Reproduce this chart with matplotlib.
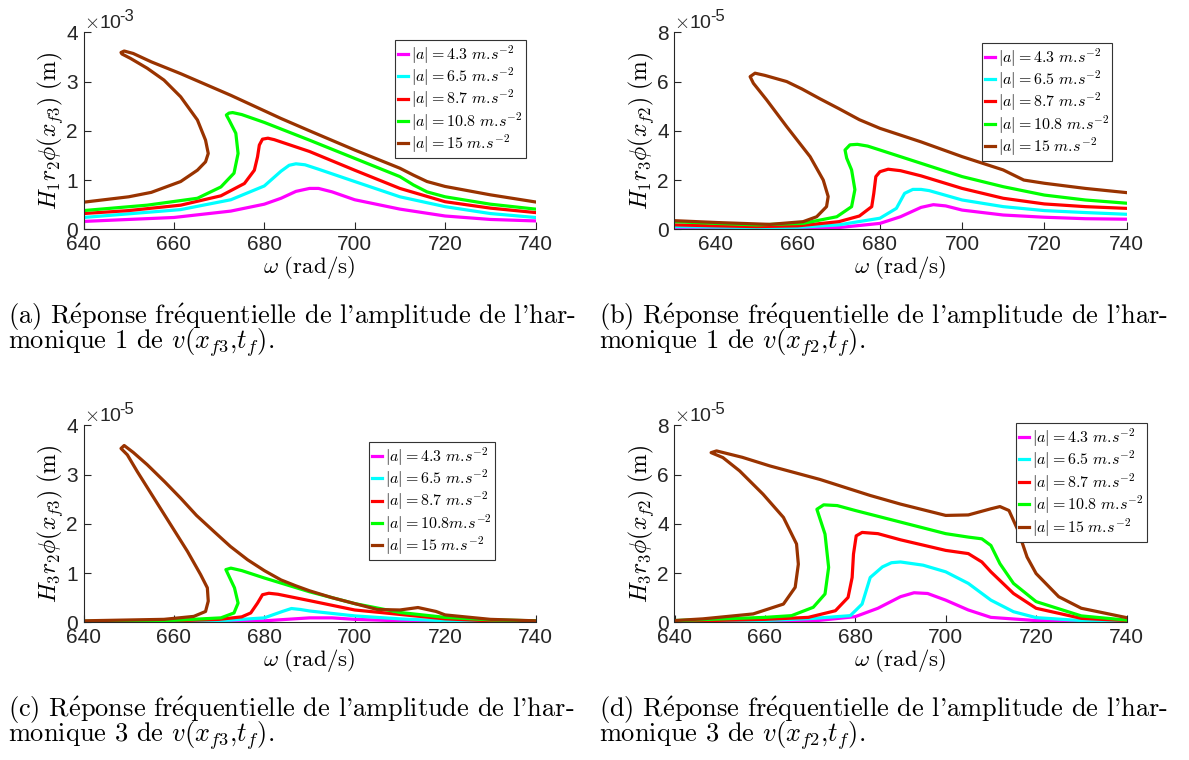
import matplotlib
matplotlib.use("Agg")
import matplotlib.pyplot as plt

plt.rcParams['mathtext.fontset'] = 'cm'
plt.rcParams['font.family'] = ['Liberation Sans', 'DejaVu Sans']
plt.rcParams['axes.unicode_minus'] = False

# legend levels and colours (MATLAB-like)
levels = ['4.3', '6.5', '8.7', '10.8', '15']
colors = ['#FF00FF', '#00FFFF', '#FF0000', '#00FF00', '#993300']

# ---- (a) H1 r2 phi(xf3), units 1e-3 m ----
wa_43 = [640, 660, 672.6, 680, 683.7, 687, 690, 692, 695, 700, 710, 720, 730, 740]
ha_43 = [0.16, 0.24, 0.37, 0.51, 0.63, 0.77, 0.83, 0.83, 0.76, 0.60, 0.41, 0.27, 0.20, 0.17]
wa_65 = [640, 661.5, 672.6, 680, 683.7, 685.5, 687, 689, 692, 700, 710, 720, 730, 740]
ha_65 = [0.24, 0.40, 0.60, 0.88, 1.18, 1.30, 1.33, 1.31, 1.22, 0.97, 0.66, 0.46, 0.32, 0.24]
wa_87 = [640, 650, 661.5, 670.4, 675.6, 677.8, 678.5, 678.9, 679.6, 680.8, 682.2, 690, 700, 710, 720, 730, 740]
ha_87 = [0.32, 0.38, 0.49, 0.68, 0.93, 1.20, 1.47, 1.71, 1.83, 1.85, 1.82, 1.58, 1.20, 0.83, 0.56, 0.43, 0.34]
wa_108 = [640, 654.1, 665.2, 670.4, 673.3, 674.2, 673.7, 672.2, 671.6, 672.2, 673.0, 675, 680, 690, 700, 710, 713, 716, 720, 730, 740]
ha_108 = [0.38, 0.49, 0.63, 0.86, 1.14, 1.54, 1.95, 2.22, 2.32, 2.36, 2.37, 2.33, 2.17, 1.81, 1.44, 1.07, 0.90, 0.76, 0.66, 0.51, 0.41]
wa_15 = [640, 650, 655, 661.5, 665.2, 667.0, 667.6, 667.0, 665.2, 661.5, 657.8, 654.1, 650.4, 648.5, 648.3,
         649.0, 651, 655, 661.5, 672.6, 683.7, 690, 700, 710, 713, 716, 720, 730, 740]
ha_15 = [0.55, 0.66, 0.75, 0.97, 1.20, 1.37, 1.54, 1.81, 2.22, 2.69, 3.03, 3.27, 3.47, 3.56, 3.59,
         3.62, 3.57, 3.40, 3.16, 2.72, 2.25, 2.00, 1.61, 1.24, 1.10, 0.97, 0.87, 0.70, 0.555]

# ---- (b) H1 r3 phi(xf2), units 1e-5 m ----
wb_43 = [630, 660, 670, 680, 685, 690, 693, 696, 700, 710, 720, 730, 740]
hb_43 = [0.04, 0.03, 0.07, 0.24, 0.51, 0.89, 1.00, 0.95, 0.78, 0.58, 0.49, 0.43, 0.41]
wb_65 = [630, 650, 660, 670, 680, 684, 686, 688, 690, 692, 700, 710, 720, 730, 740]
hb_65 = [0.11, 0.07, 0.08, 0.18, 0.45, 0.85, 1.46, 1.62, 1.62, 1.57, 1.19, 0.92, 0.76, 0.68, 0.61]
wb_87 = [630, 640, 650, 660, 670, 675, 678, 678.5, 679, 680, 682, 685, 690, 700, 710, 720, 730, 740]
hb_87 = [0.18, 0.14, 0.11, 0.14, 0.31, 0.54, 0.92, 1.46, 2.14, 2.34, 2.44, 2.38, 2.17, 1.66, 1.26, 1.03, 0.92, 0.85]
wb_108 = [630, 640, 650, 661.3, 669.5, 673.1, 673.9, 673.1, 671.9, 671.5, 672.7, 674.5, 677, 680, 690, 700, 710, 720, 730, 740]
hb_108 = [0.31, 0.24, 0.18, 0.24, 0.51, 0.92, 1.61, 2.41, 2.89, 3.22, 3.43, 3.45, 3.38, 3.22, 2.68, 2.14, 1.73, 1.39, 1.19, 1.06]
wb_15 = [630, 641.1, 653.2, 661.3, 664.6, 667.0, 667.4, 666.2, 663.0, 657.3, 652.4, 649.2, 648.4, 649.6,
         652, 657.3, 661, 665.4, 670, 675, 680, 690, 700, 710, 715, 720, 730, 740]
hb_15 = [0.35, 0.27, 0.20, 0.31, 0.51, 0.92, 1.33, 2.00, 2.95, 4.17, 5.26, 5.93, 6.20, 6.34,
         6.25, 6.00, 5.70, 5.30, 4.90, 4.45, 4.10, 3.55, 2.95, 2.41, 2.00, 1.87, 1.66, 1.49]

# ---- (c) H3 r2 phi(xf3), units 1e-5 m ----
wc_43 = [640, 680, 690, 695, 700, 710, 740]
hc_43 = [0.0, 0.03, 0.09, 0.09, 0.06, 0.03, 0.007]
wc_65 = [640, 670, 680, 684, 686, 688, 690, 700, 710, 720, 740]
hc_65 = [0.007, 0.03, 0.09, 0.22, 0.28, 0.26, 0.23, 0.13, 0.07, 0.03, 0.01]
wc_87 = [640, 660, 670, 675, 677.0, 678.5, 679.6, 681, 683, 690, 700, 710, 720, 730, 740]
hc_87 = [0.01, 0.03, 0.06, 0.11, 0.19, 0.39, 0.56, 0.59, 0.57, 0.44, 0.25, 0.16, 0.07, 0.03, 0.02]
wc_108 = [640, 660, 670.4, 673.3, 674.2, 673.4, 671.5, 672.6, 675, 680, 690, 700, 710, 720, 730, 740]
hc_108 = [0.02, 0.04, 0.09, 0.19, 0.39, 0.70, 1.07, 1.10, 1.05, 0.90, 0.62, 0.38, 0.20, 0.10, 0.05, 0.03]
wc_15 = [640, 657.8, 664.4, 667.0, 667.6, 667.4, 665.9, 663.0, 659.3, 655.6, 651.9, 649.7, 648.3, 649.0,
         651, 654.1, 658, 661.5, 665, 668.9, 672.5, 676.3, 680, 683.7, 687, 690, 695, 700, 705, 710, 714, 718, 720, 730, 740]
hc_15 = [0.03, 0.06, 0.12, 0.22, 0.43, 0.70, 0.97, 1.44, 1.98, 2.52, 3.06, 3.40, 3.53, 3.59,
         3.45, 3.20, 2.85, 2.52, 2.17, 1.84, 1.54, 1.27, 1.05, 0.86, 0.74, 0.64, 0.50, 0.38, 0.26, 0.25, 0.30, 0.22, 0.15, 0.06, 0.03]

# ---- (d) H3 r3 phi(xf2), units 1e-5 m ----
wd_43 = [640, 670, 680, 685, 690, 693, 696, 700, 705, 710, 720, 740]
hd_43 = [0.0, 0.04, 0.23, 0.57, 1.04, 1.20, 1.17, 0.90, 0.50, 0.20, 0.07, 0.01]
wd_65 = [640, 660, 670, 678.9, 681.5, 683.3, 686, 688, 690, 695, 700, 705, 710, 715, 720, 730, 740]
hd_65 = [0.01, 0.07, 0.15, 0.27, 0.74, 1.82, 2.25, 2.42, 2.45, 2.32, 2.05, 1.58, 0.90, 0.43, 0.19, 0.07, 0.03]
wd_87 = [640, 660, 669.6, 675.6, 678.4, 679.3, 679.6, 680.2, 681.5, 685, 690, 700, 705, 708, 710, 715, 720, 730, 740]
hd_87 = [0.04, 0.12, 0.20, 0.47, 1.01, 1.82, 2.77, 3.51, 3.65, 3.60, 3.35, 2.92, 2.79, 2.45, 2.05, 1.17, 0.57, 0.16, 0.07]
wd_108 = [640, 660, 665.9, 670.7, 673.3, 674.1, 673.3, 671.5, 673.0, 676, 680, 690, 700, 705, 708, 710, 712, 715, 720, 730, 740]
hd_108 = [0.07, 0.20, 0.27, 0.61, 1.15, 2.23, 3.58, 4.59, 4.77, 4.74, 4.54, 4.07, 3.60, 3.46, 3.39, 3.12, 2.38, 1.58, 0.84, 0.26, 0.09]
wd_15 = [640, 646.3, 657.4, 664.1, 666.7, 667.4, 667.0, 664.1, 659.6, 654.4, 650.7, 648.1, 649.3,
         655, 661.1, 672.2, 683.3, 690, 700, 705, 710, 712, 714, 716, 718, 720, 725, 730, 740]
hd_15 = [0.07, 0.14, 0.34, 0.74, 1.42, 2.36, 3.18, 4.26, 5.20, 6.15, 6.69, 6.89, 6.96,
         6.70, 6.35, 5.80, 5.15, 4.80, 4.34, 4.36, 4.61, 4.70, 4.54, 3.73, 2.65, 1.98, 1.04, 0.57, 0.19]

W = 1189.0
H = 760.0
fig = plt.figure(figsize=(W / 100, H / 100), dpi=100)
axcol = '#262626'
cap_font = ['cmr10', 'DejaVu Serif']
E = r'$\acute{\mathrm{e}}$'


def make_panel(rect, curves, xlim, ylim, yticks, expo, ylabel, leg_labels, leg_anchor, caption):
    ax = fig.add_axes(rect)
    for (w, h), c, lab in zip(curves, colors, leg_labels):
        ax.plot(w, h, color=c, lw=2.3, label=lab, solid_joinstyle='round')
    ax.set_xlim(*xlim)
    ax.set_ylim(*ylim)
    ax.set_xticks(range(640, 741, 20))
    ax.set_yticks(yticks)
    for s in ['top', 'right']:
        ax.spines[s].set_visible(False)
    for s in ['left', 'bottom']:
        ax.spines[s].set_color(axcol)
        ax.spines[s].set_linewidth(0.8)
    ax.tick_params(direction='in', length=5, width=0.8, colors=axcol, labelsize=15, pad=4)
    ax.set_xlabel(r'$\omega\ \mathrm{(rad/s)}$', fontsize=16.5, labelpad=0)
    ax.set_ylabel(ylabel, fontsize=17, labelpad=1)
    ax.text(0.0, 1.0, r'$\times$10', transform=ax.transAxes, fontsize=14, color=axcol,
            ha='left', va='bottom', family='Liberation Sans')
    ax.text(0.078, 1.04, expo, transform=ax.transAxes, fontsize=12, color=axcol,
            ha='left', va='bottom', family='Liberation Sans')
    leg = ax.legend(loc='upper left', bbox_to_anchor=leg_anchor, fontsize=11.5,
                    handlelength=0.6, handletextpad=0.2, labelspacing=0.0,
                    borderpad=0.2, borderaxespad=0, fancybox=False, framealpha=1)
    leg.get_frame().set_edgecolor('#333333')
    leg.get_frame().set_linewidth(0.8)
    fig.text(rect[0] - 0.0635, rect[1] - 0.1155, caption[0], fontsize=19, family=cap_font,
             ha='left', va='center', math_fontfamily='cm')
    fig.text(rect[0] - 0.0635, rect[1] - 0.149, caption[1], fontsize=19, family=cap_font,
             ha='left', va='center', math_fontfamily='cm')
    return ax


def lab(sep=r'\ '):
    return [r'$|a| = ' + v + sep + r'm.\!s^{-2}$' for v in levels]


def cap(letter, harm, pos):
    return ["(" + letter + ") R" + E + "ponse fr" + E + "quentielle de l'amplitude de l'har-",
            "monique " + harm + r" de $v(x_{f" + pos + r"}{,}t_f)$."]


labs = lab()
labs_c = labs[:3] + [r'$|a| = 10.8m.\!s^{-2}$'] + labs[4:]

aw = 452 / W
ah = 197 / H
xl = 83.5 / W
xr = 674.5 / W
yt = 1 - 229.3 / H
yb = 1 - 622.3 / H

make_panel([xl, yt, aw, ah],
           [(wa_43, ha_43), (wa_65, ha_65), (wa_87, ha_87), (wa_108, ha_108), (wa_15, ha_15)],
           (640, 740), (0, 4), [0, 1, 2, 3, 4], '-3', r'$H_1r_2\phi(x_{f3})\ \mathrm{(m)}$', labs,
           (0.689, 0.961), cap('a', '1', '3'))
make_panel([xr, yt, aw, ah],
           [(wb_43, hb_43), (wb_65, hb_65), (wb_87, hb_87), (wb_108, hb_108), (wb_15, hb_15)],
           (630, 740), (0, 8), [0, 2, 4, 6, 8], '-5', r'$H_1r_3\phi(x_{f2})\ \mathrm{(m)}$', labs,
           (0.680, 0.946), cap('b', '1', '2'))
make_panel([xl, yb, aw, ah],
           [(wc_43, hc_43), (wc_65, hc_65), (wc_87, hc_87), (wc_108, hc_108), (wc_15, hc_15)],
           (640, 740), (0, 4), [0, 1, 2, 3, 4], '-5', r'$H_3r_2\phi(x_{f3})\ \mathrm{(m)}$', labs_c,
           (0.632, 0.915), cap('c', '3', '3'))
make_panel([xr, yb, aw, ah],
           [(wd_43, hd_43), (wd_65, hd_65), (wd_87, hd_87), (wd_108, hd_108), (wd_15, hd_15)],
           (640, 740), (0, 8), [0, 2, 4, 6, 8], '-5', r'$H_3r_3\phi(x_{f2})\ \mathrm{(m)}$', labs,
           (0.756, 1.01), cap('d', '3', '2'))

fig.savefig('out.png', dpi=100)
